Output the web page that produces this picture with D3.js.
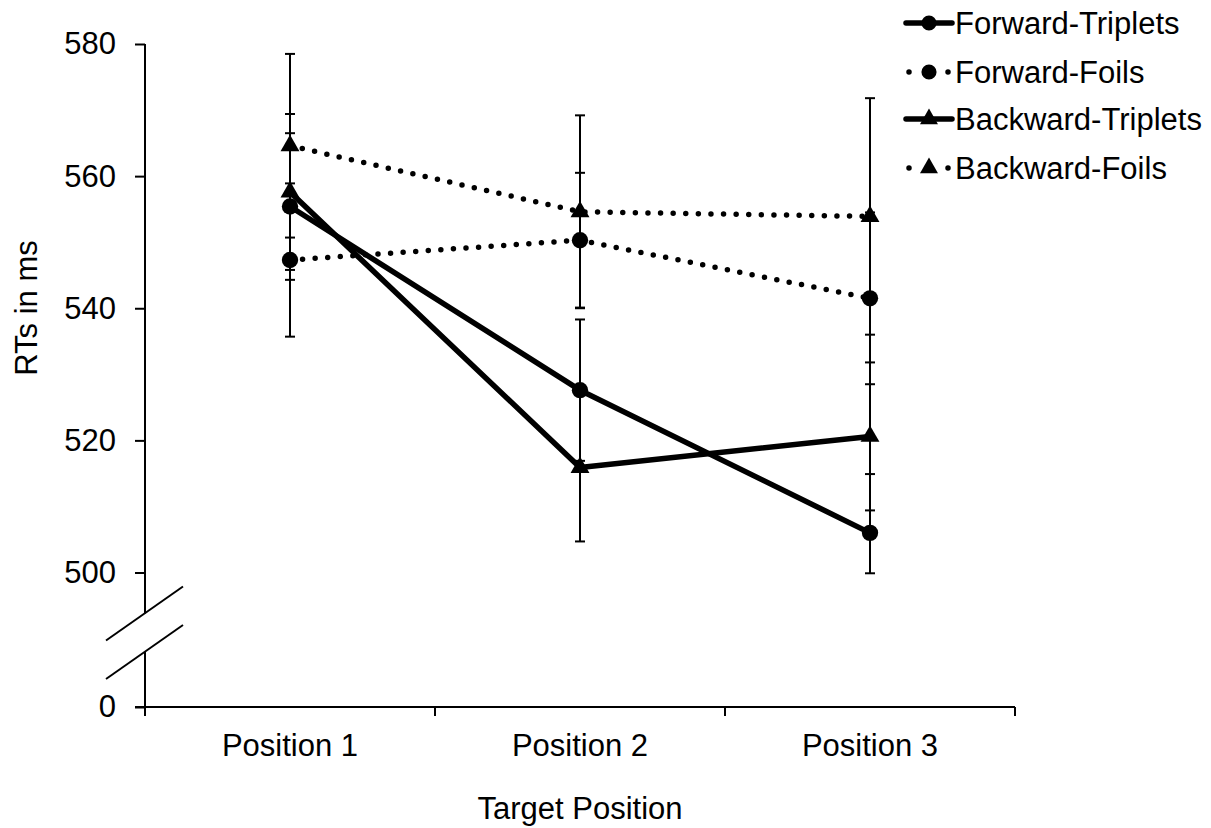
<!DOCTYPE html>
<html>
<head>
<meta charset="utf-8">
<script src="https://cdn.jsdelivr.net/npm/d3@7"></script>
<style>
  body { margin: 0; background: #fff; }
  svg text { font-family: "Liberation Sans", Arial, sans-serif; fill: #000; }
</style>
</head>
<body>
<svg id="chart" width="1211" height="828"></svg>
<script>
// data
var categories = ["Position 1", "Position 2", "Position 3"];
var seriesNames = ["Forward-Triplets", "Forward-Foils", "Backward-Triplets", "Backward-Foils"];
var forwardTriplets = [555.4, 527.6, 506.0];
var forwardTripletsErr = [11.1, 10.7, 8.9];
var forwardFoils = [547.3, 550.3, 541.5];
var forwardFoilsErr = [11.6, 10.2, 13.0];
var backwardTriplets = [557.6, 515.9, 520.6];
var backwardTripletsErr = [11.8, 11.2, 11.2];
var backwardFoils = [564.6, 554.6, 553.9];
var backwardFoilsErr = [13.9, 14.6, 17.9];
var yTicks = [0, 500, 520, 540, 560, 580];

var series = [
  {name: seriesNames[0], values: forwardTriplets, err: forwardTripletsErr, dotted: false, shape: d3.symbolCircle},
  {name: seriesNames[1], values: forwardFoils, err: forwardFoilsErr, dotted: true, shape: d3.symbolCircle},
  {name: seriesNames[2], values: backwardTriplets, err: backwardTripletsErr, dotted: false, shape: d3.symbolTriangle},
  {name: seriesNames[3], values: backwardFoils, err: backwardFoilsErr, dotted: true, shape: d3.symbolTriangle}
];

var svg = d3.select("#chart");
var font = 31;

// x: band per category, ticks on band edges, labels at centres
var x = d3.scaleBand().domain(categories).range([145, 1015]);
var cx = function(c) { return x(c) + x.bandwidth() / 2; };

// y: broken axis, 0 squeezed below 500
var y = d3.scaleLinear().domain([0, 500, 580]).range([707, 572.5, 44]);

// y axis ticks + labels
var yAxis = svg.append("g")
    .attr("transform", "translate(145,0)")
    .call(d3.axisLeft(y).tickValues(yTicks).tickSize(10).tickPadding(19).tickFormat(d3.format("d")));
yAxis.select(".domain").remove();
yAxis.selectAll("line").attr("stroke", "#000").attr("stroke-width", 2);
yAxis.selectAll("text").style("font-size", font + "px").attr("font-family", null);

// y axis line with break
var gapTop = y(500) + 41, gapBottom = y(0) - 55;
svg.append("line").attr("x1", 145).attr("x2", 145).attr("y1", y(580)).attr("y2", gapTop)
  .attr("stroke", "#000").attr("stroke-width", 2);
svg.append("line").attr("x1", 145).attr("x2", 145).attr("y1", gapBottom).attr("y2", y(0) + 8)
  .attr("stroke", "#000").attr("stroke-width", 2);
[gapTop, gapBottom].forEach(function(gy) {
  svg.append("line")
    .attr("x1", 106).attr("y1", gy + 27).attr("x2", 183).attr("y2", gy - 27)
    .attr("stroke", "#000").attr("stroke-width", 2);
});

// x axis
svg.append("line").attr("x1", 135).attr("x2", x.range()[1]).attr("y1", y(0)).attr("y2", y(0))
  .attr("stroke", "#000").attr("stroke-width", 2);
var edges = categories.map(function(c) { return x(c); }).concat([x.range()[1]]);
svg.selectAll(".xtick").data(edges).enter().append("line")
  .attr("x1", function(d) { return d; }).attr("x2", function(d) { return d; })
  .attr("y1", y(0)).attr("y2", y(0) + 9)
  .attr("stroke", "#000").attr("stroke-width", 2);
svg.selectAll(".xlab").data(categories).enter().append("text")
  .attr("x", cx).attr("y", 756)
  .attr("text-anchor", "middle")
  .style("font-size", font + "px")
  .text(function(d) { return d; });

// axis titles
svg.append("text").attr("x", 580).attr("y", 819).attr("text-anchor", "middle")
  .style("font-size", font + "px").text("Target Position");
svg.append("text").attr("transform", "translate(37,308) rotate(-90)").attr("text-anchor", "middle")
  .style("font-size", font + "px").text("RTs in ms");

// error bars
series.forEach(function(s) {
  var g = svg.append("g");
  categories.forEach(function(c, i) {
    var hi = y(s.values[i] + s.err[i]), lo = y(s.values[i] - s.err[i]);
    g.append("line").attr("x1", cx(c)).attr("x2", cx(c)).attr("y1", hi).attr("y2", lo)
      .attr("stroke", "#000").attr("stroke-width", 2);
    [hi, lo].forEach(function(v) {
      g.append("line").attr("x1", cx(c) - 5).attr("x2", cx(c) + 5).attr("y1", v).attr("y2", v)
        .attr("stroke", "#000").attr("stroke-width", 2);
    });
  });
});

// lines
var line = d3.line()
  .x(function(d, i) { return cx(categories[i]); })
  .y(function(d) { return y(d); });

series.forEach(function(s) {
  svg.append("path")
    .datum(s.values)
    .attr("fill", "none")
    .attr("stroke", "#000")
    .attr("stroke-width", s.dotted ? 5.5 : 5.5)
    .attr("stroke-linecap", "round")
    .attr("stroke-linejoin", "round")
    .attr("stroke-dasharray", s.dotted ? "0 12.6" : null)
    .attr("d", line);
});

// markers
series.forEach(function(s) {
  svg.selectAll(null).data(s.values).enter().append("path")
    .attr("transform", function(d, i) { return "translate(" + cx(categories[i]) + "," + y(d) + ")"; })
    .attr("d", d3.symbol().type(s.shape).size(s.shape === d3.symbolCircle ? 210 : 155))
    .attr("fill", "#000");
});

// legend
var legend = svg.append("g");
var rowY = [23, 72, 119, 168];
series.forEach(function(s, i) {
  var ly = rowY[i];
  legend.append("line")
    .attr("x1", s.dotted ? 909 : 906).attr("x2", s.dotted ? 950 : 952)
    .attr("y1", ly).attr("y2", ly)
    .attr("stroke", "#000")
    .attr("stroke-width", s.dotted ? 5.5 : 5.5)
    .attr("stroke-linecap", "round")
    .attr("stroke-dasharray", s.dotted ? "0 19.5" : null);
  legend.append("path")
    .attr("transform", "translate(929," + ly + ")")
    .attr("d", d3.symbol().type(s.shape).size(s.shape === d3.symbolCircle ? 180 : 140))
    .attr("fill", "#000");
  legend.append("text")
    .attr("x", 955).attr("y", ly).attr("dy", "0.36em")
    .style("font-size", font + "px")
    .text(s.name);
});
</script>
</body>
</html>
